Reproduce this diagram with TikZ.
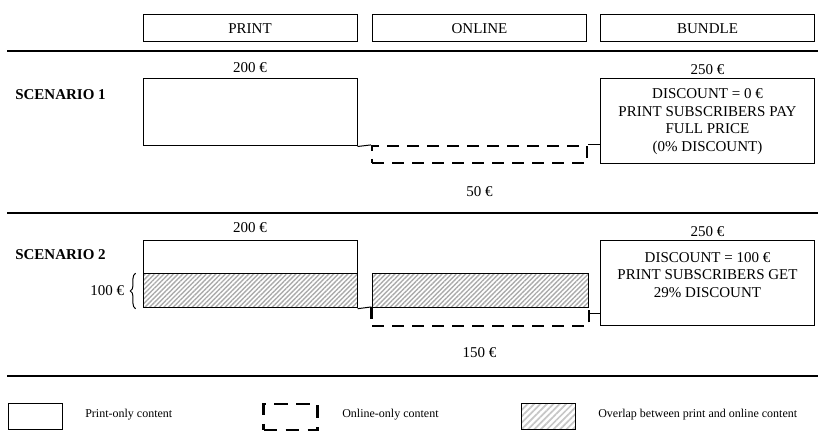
\documentclass[tikz,border=0pt]{standalone}
\usepackage{fontspec}
\setmainfont{Liberation Serif}
\usetikzlibrary{positioning,patterns.meta,decorations.pathreplacing}

\begin{document}
\begin{tikzpicture}[x=0.75pt, y=-0.75pt,
  every node/.style={font=\fontsize{11.25}{13.2}\selectfont},
  colhead/.style={draw, line width=0.75pt, minimum width=160.5pt, minimum height=20.25pt, inner sep=0pt},
  printbox/.style={draw, line width=0.75pt, minimum width=160.5pt, inner sep=0pt},
  bundlebox/.style={draw, line width=0.75pt, minimum width=160.5pt, minimum height=63.75pt, align=center, inner sep=2pt},
  onlinedash/.style={dash pattern=on 9pt off 6pt, line width=1.6pt},
  onlinebox/.style={onlinedash, minimum width=161.25pt, minimum height=12.75pt, inner sep=0pt},
  overlapbox/.style={draw, line width=0.75pt, pattern={Lines[angle=45, distance=2.5pt, line width=1.05pt]}, pattern color=black!33, inner sep=0pt},
  link/.style={line width=0.75pt},
  sepline/.style={line width=1.8pt},
  scenariotext/.style={anchor=west, inner sep=0pt, font=\fontsize{11.25}{13.2}\selectfont\bfseries},
  legendtext/.style={anchor=west, inner sep=0pt, font=\fontsize{9}{10}\selectfont}]
  \useasboundingbox (0,0) rectangle (822,438);

  % column heads
  \node[colhead] (hprint) at (250,28.5) {PRINT};
  \node[colhead] (honline) at (479.5,28.5) {ONLINE};
  \node[colhead] (hbundle) at (707.5,28.5) {BUNDLE};
  \draw[sepline] (7,51) -- (818,51);

  % scenario 1
  \node[scenariotext] (sc1) at (15,95) {SCENARIO 1};
  \node[printbox, minimum height=50.25pt] (p1) at (250,112.5) {};
  \node[above=1pt of p1] (p1price) {200 €};
  \node[draw, onlinebox] (o1) at (479.5,154.5) {};
  \node (o1price) at (479.5,192) {50 €};
  \node[bundlebox] (b1) at (707.5,121.5) {DISCOUNT = 0 €\\PRINT SUBSCRIBERS PAY\\FULL PRICE\\(0\% DISCOUNT)};
  \node (b1price) at (707.5,70) {250 €};
  \draw[link] (p1.south east) -- (o1.north west);
  \draw[link] (o1.north east) -- (o1.north east -| b1.west);
  \draw[sepline] (7,213) -- (818,213);

  % scenario 2
  \node[scenariotext] (sc2) at (15,255) {SCENARIO 2};
  \node[printbox, minimum height=24.75pt] (p2) at (250,257.5) {};
  \node[overlapbox, minimum width=160.5pt, minimum height=25.5pt] (h2) at (250,291) {};
  \node (p2price) at (250,228) {200 €};
  \node[onlinebox] (o2) at (480,316.5) {};
  \draw[onlinedash] (o2.north west) -- (o2.south west) -- (o2.south east) -- (o2.north east);
  \node[overlapbox, minimum width=162pt, minimum height=25.5pt] (oh2) at (480,291) {};
  \node (o2price) at (479.5,353) {150 €};
  \node[bundlebox] (b2) at (707.5,283.5) {DISCOUNT = 100 €\\PRINT SUBSCRIBERS GET\\29\% DISCOUNT\\\mbox{}};
  \node (b2price) at (707.5,232) {250 €};
  \draw[link] (h2.south east) -- (o2.north west);
  \draw[link] ([yshift=2.6pt]o2.east) -- ([yshift=2.6pt]o2.east -| b2.west);
  \draw[link, decorate, decoration={brace, amplitude=4pt}]
    ([xshift=-5pt]h2.south west) -- ([xshift=-5pt]h2.north west)
    node[midway, left=5pt] (ovprice) {100 €};
  \draw[sepline] (7,376) -- (818,376);

  % legend
  \node[printbox, minimum width=40.5pt, minimum height=19.5pt] (lprint) at (35,417) {};
  \node[legendtext] (tprint) at (85,415) {Print-only content};
  \node[draw, onlinebox, dash pattern=on 10pt off 6.5pt, minimum width=40.5pt, minimum height=19.5pt] (lonline) at (290.5,417) {};
  \node[legendtext] (tonline) at (342,415) {Online-only content};
  \node[overlapbox, pattern={Lines[angle=45, distance=3.4pt, line width=1.3pt]}, pattern color=black!22, minimum width=40.5pt, minimum height=19.5pt] (loverlap) at (548,417) {};
  \node[legendtext] (toverlap) at (598,415) {Overlap between print and online content};
\end{tikzpicture}
\end{document}
